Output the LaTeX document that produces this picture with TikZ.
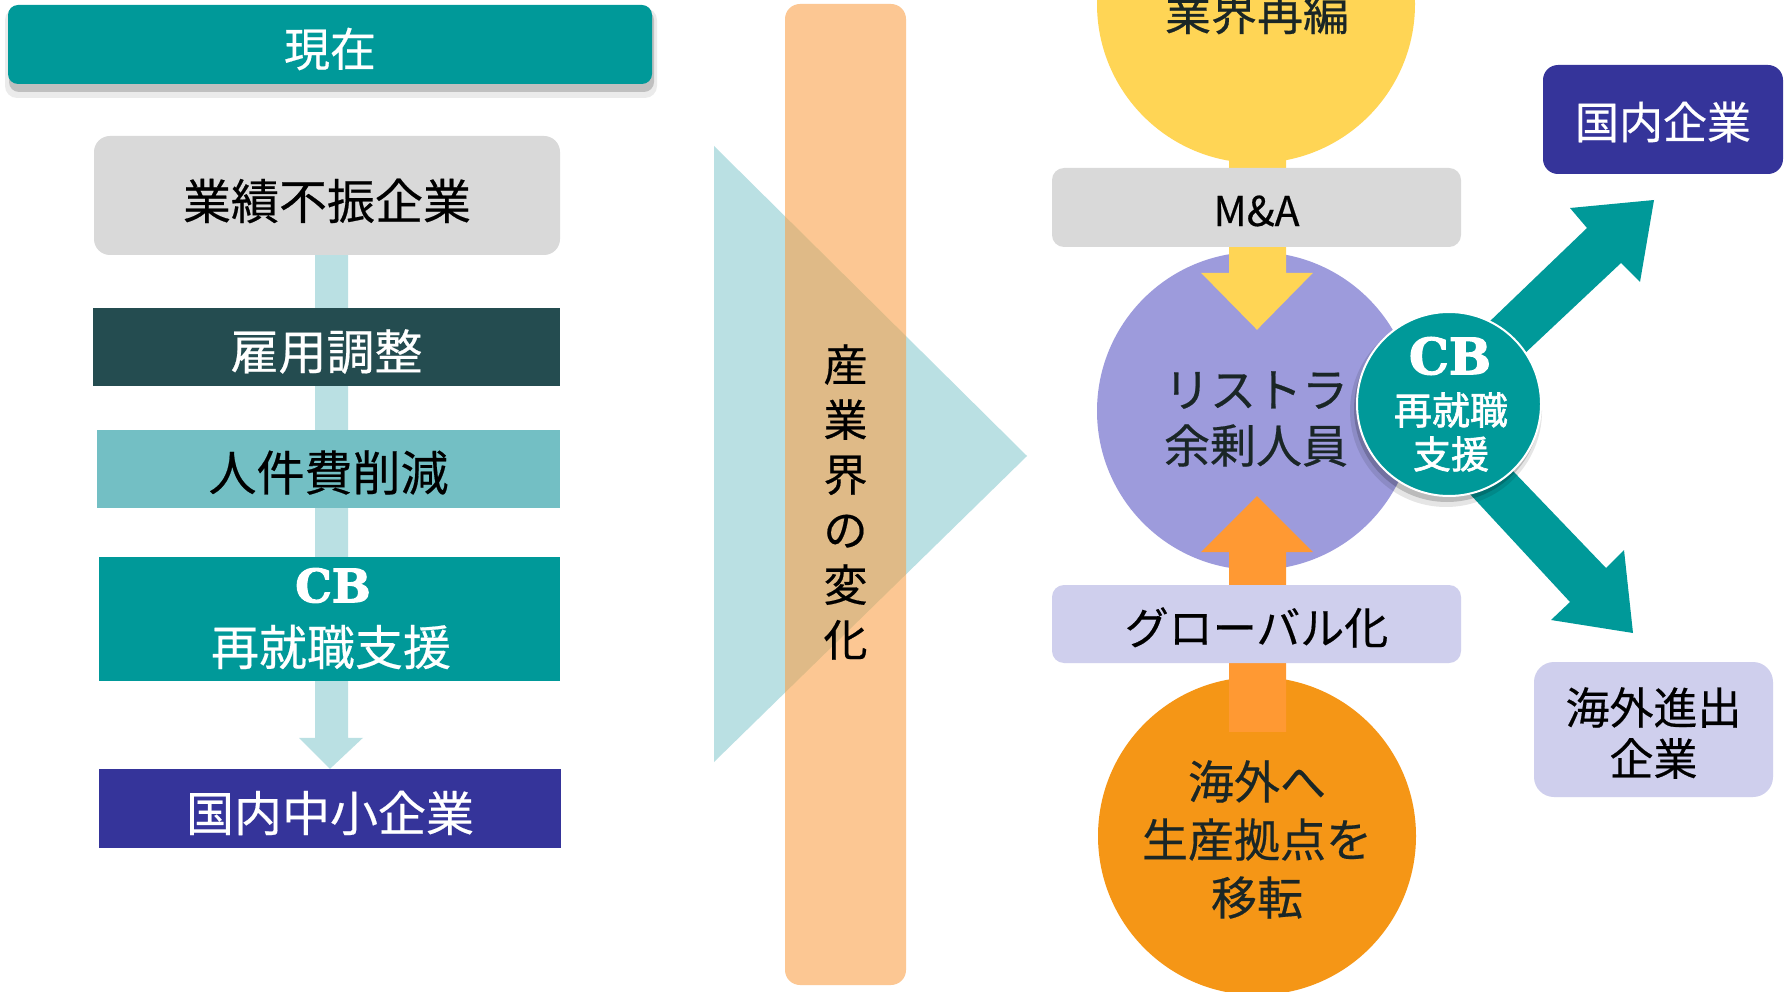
\documentclass[tikz,border=0pt]{standalone}
\usepackage{fontspec}
\setmainfont[FakeBold=0.4]{Noto Sans CJK JP}
\newfontfamily\jpbold[FakeBold=1.6]{Noto Sans CJK JP}
\newfontfamily\cbfont[FakeBold=2.5]{DejaVu Serif}
\usetikzlibrary{calc}
\definecolor{cteal}{RGB}{0,153,153}
\definecolor{cdark}{RGB}{36,76,80}
\definecolor{cmid}{RGB}{115,191,196}
\definecolor{cnavy}{RGB}{53,52,154}
\definecolor{cgray}{RGB}{217,217,217}
\definecolor{clightb}{RGB}{186,224,227}
\definecolor{cbarorange}{RGB}{250,160,70}
\definecolor{cyel}{RGB}{255,213,85}
\definecolor{cpur}{RGB}{157,155,220}
\definecolor{clav}{RGB}{207,207,237}
\definecolor{corc}{RGB}{245,150,22}
\definecolor{cora}{RGB}{255,153,51}
\definecolor{ctxt}{RGB}{26,38,38}
\newcommand{\fs}[2]{\fontsize{#1}{#2}\selectfont}
\tikzset{
  boxnode/.style={rectangle, inner sep=0pt},
  bignode/.style={circle, inner sep=0pt, minimum size=318},
  txt/.style={inner sep=0pt, align=center},
}
\begin{document}
\begin{tikzpicture}[x=1pt,y=-1pt]
\useasboundingbox (0,0) rectangle (1788,992);
\fill[white] (0,0) rectangle (1788,992);

% ---------- left column ----------
\fill[black, opacity=.08, rounded corners=12] (5,8) rectangle (657,98);
\fill[black, opacity=.18, rounded corners=10] (9,10) rectangle (654,92);
\node[boxnode, fill=cteal, rounded corners=10, minimum width=644, minimum height=79] (now) at (330,44.5) {};
\node[txt, text=white, font=\fs{46}{52}] (nowt) at ($(now)+(0,4.5)$) {現在};

\node[boxnode, fill=cgray, rounded corners=16, minimum width=466, minimum height=119] (gyo) at (327,195.5) {};
\node[txt, text=black, font=\fs{48}{56}] (gyot) at ($(gyo)+(0,5.5)$) {業績不振企業};
\node[boxnode, fill=cnavy, minimum width=462, minimum height=79] (kok) at (330,808.5) {};
\node[txt, text=white, font=\fs{48}{56}] (kokt) at ($(kok)+(0,4.5)$) {国内中小企業};

% connector bar with arrow head
\fill[clightb] ($(gyo.south)+(-12,0)$) -- ($(kok.north)+(-15,-31)$) -- ($(kok.north)+(-31,-31)$) -- (kok.north) -- ($(kok.north)+(33,-31)$) -- ($(kok.north)+(18,-31)$) -- ($(gyo.south)+(21,0)$) -- cycle;

\node[boxnode, fill=cdark, minimum width=467, minimum height=78] (koyo) at (326.5,347) {};
\node[txt, text=white, font=\fs{48}{56}] (koyot) at ($(koyo)+(0,4.5)$) {雇用調整};
\node[boxnode, fill=cmid, minimum width=463, minimum height=78] (jin) at (328.5,469) {};
\node[txt, text=black, font=\fs{48}{56}] (jint) at ($(jin)+(0,3.5)$) {人件費削減};
\node[boxnode, fill=cteal, minimum width=461, minimum height=124] (cbb) at (329.5,619) {};
\node[txt, text=white, font=\cbfont\bfseries\fs{46}{52}] (cbbt) at (333,585.5) {CB};
\node[txt, text=white, font=\fs{48}{56}] (cbbj) at (331,647) {再就職支援};

% ---------- middle ----------
\fill[clightb] (714,146) -- (714,762) -- (1027,456) -- cycle;
\node[rectangle, fill=cbarorange, fill opacity=.58, rounded corners=15, minimum width=121, minimum height=981, inner sep=0pt] (bar) at (845.5,494.5) {};
\node[txt, text=black, font=\fs{44}{55}] (bart) at (845.5,502) {産\\業\\界\\の\\変\\化};

% ---------- right ----------
\node[bignode, fill=cyel] (yel) at (1256,4) {};
\node[txt, text=ctxt, font=\fs{46}{56}] (yelt) at (1257,13) {業界再編};
\node[bignode, fill=cpur] (pur) at (1256,411) {};
\node[bignode, fill=corc] (ora) at (1257,836) {};

% yellow arrow
\fill[cyel] ($(yel.south)+(-27,-30)$) -- ($(pur.north)+(-27,21)$) -- ($(pur.north)+(-55,21)$) -- ($(pur.north)+(1,78)$) -- ($(pur.north)+(57,21)$) -- ($(pur.north)+(30,21)$) -- ($(yel.south)+(30,-30)$) -- cycle;
% orange arrow
\fill[cora] ($(ora.north)+(-28,55)$) -- ($(pur.south)+(-27,-18)$) -- ($(pur.south)+(-55,-18)$) -- ($(pur.south)+(1,-74)$) -- ($(pur.south)+(57,-18)$) -- ($(pur.south)+(30,-18)$) -- ($(ora.north)+(29,55)$) -- cycle;

\node[txt, text=ctxt, font=\fs{46}{56}] (purt) at ($(pur)+(0,8)$) {リストラ\\余剰人員};
\node[txt, text=ctxt, font=\fs{46}{58}] (orat) at ($(ora)+(0,3.5)$) {海外へ\\生産拠点を\\移転};

\node[boxnode, fill=cgray, rounded corners=12, minimum width=409, minimum height=79] (ma) at (1256.5,207.5) {};
\node[txt, text=black, font=\fs{41}{48}] (mat) at ($(ma)+(0,3.5)$) {M\&A};
\node[boxnode, fill=clav, rounded corners=12, minimum width=409, minimum height=78] (glo) at (1256.5,624) {};
\node[txt, text=black, font=\fs{44}{52}] (glot) at ($(glo)+(0,3.5)$) {グローバル化};

% teal arrows
\fill[cteal] (1437,372) -- (1587,228) -- (1570,208) -- (1654,200) -- (1640,282) -- (1621,263) -- (1473,402) -- cycle;
\fill[cteal] (1443,465) -- (1570,602) -- (1551,620) -- (1633,633) -- (1624,550) -- (1606,568) -- (1488,445) -- cycle;

% CB circle
\fill[black, opacity=.10] (1446,411) circle (96);
\fill[black, opacity=.18] (1447,409) circle (93);
\node[circle, fill=cteal, draw=white, line width=2pt, minimum size=184, inner sep=0pt] (cbc) at (1449,404) {};
\node[txt, text=white, font=\cbfont\bfseries\fs{50}{56}] (cbct) at (1450,356) {CB};
\node[txt, text=white, font=\jpbold\fs{38}{44}] (cbcj) at (1451,432) {再就職\\支援};

\node[boxnode, fill=cnavy, rounded corners=15, minimum width=240, minimum height=109] (kn) at (1663,119.5) {};
\node[txt, text=white, font=\fs{44}{52}] (knt) at ($(kn)+(0,2.5)$) {国内企業};
\node[boxnode, fill=clav, rounded corners=20, minimum width=239, minimum height=135] (kg) at (1653.5,729.5) {};
\node[txt, text=black, font=\fs{44}{51}] (kgt) at ($(kg)+(0,3.5)$) {海外進出\\企業};
\end{tikzpicture}
\end{document}
